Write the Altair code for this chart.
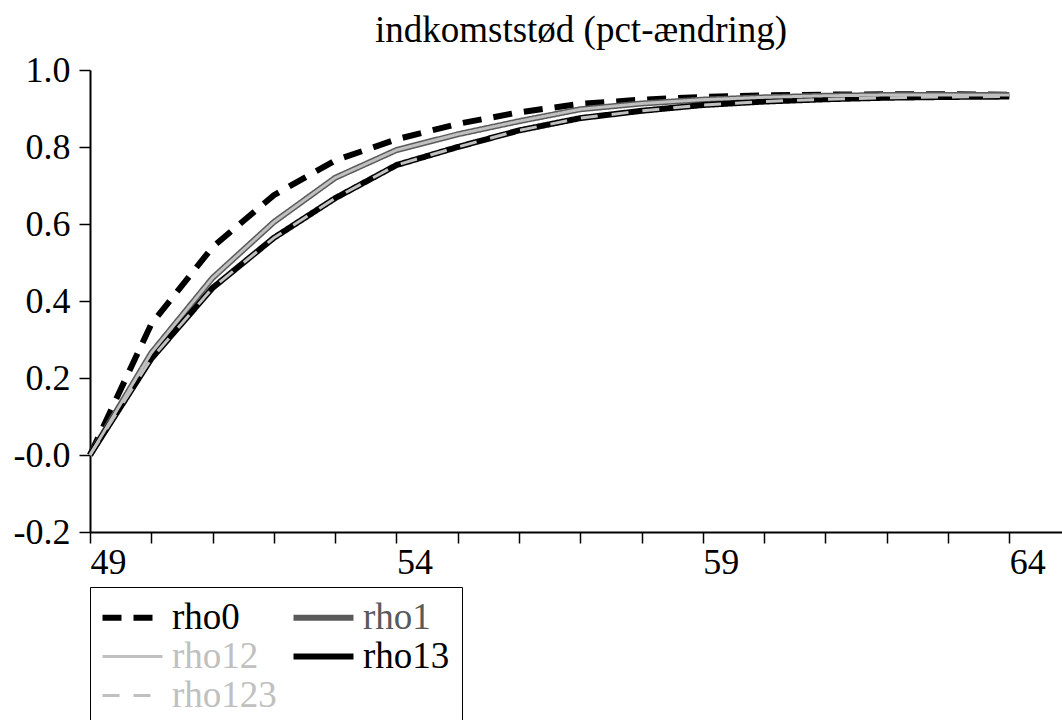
import altair as alt
import pandas as pd

years = list(range(49, 65))
rho0 = [0.0, 0.34, 0.54, 0.675, 0.765, 0.82, 0.86, 0.89, 0.912, 0.923, 0.93, 0.934, 0.936, 0.937, 0.937, 0.936]
rho1 = [0.0, 0.265, 0.46, 0.605, 0.72, 0.792, 0.833, 0.867, 0.898, 0.913, 0.923, 0.929, 0.933, 0.935, 0.935, 0.935]
rho12 = [0.0, 0.265, 0.46, 0.605, 0.72, 0.792, 0.833, 0.867, 0.898, 0.913, 0.923, 0.929, 0.933, 0.935, 0.935, 0.935]
rho13 = [0.0, 0.25, 0.434, 0.564, 0.667, 0.753, 0.80, 0.843, 0.875, 0.894, 0.909, 0.918, 0.924, 0.928, 0.930, 0.931]
rho123 = [0.0, 0.25, 0.434, 0.564, 0.667, 0.753, 0.80, 0.843, 0.875, 0.894, 0.909, 0.918, 0.924, 0.928, 0.930, 0.931]

series_names = ["rho0", "rho1", "rho12", "rho13", "rho123"]
series_values = [rho0, rho1, rho12, rho13, rho123]
colors = ["#000000", "#5a5a5a", "#c0c0c0", "#000000", "#c0c0c0"]
dashes = [[19, 12], [1, 0], [1, 0], [1, 0], [17, 14]]
thick = ["rho0", "rho1", "rho13"]
thin = ["rho12", "rho123"]
x_ticks = years
y_ticks = [-0.2, 0.0, 0.2, 0.4, 0.6, 0.8, 1.0]

rows = []
for name, vals in zip(series_names, series_values):
    for yr, v in zip(years, vals):
        rows.append({"year": yr, "value": v, "series": name})
df = pd.DataFrame(rows)

FONT = "Liberation Serif"

label_color_expr = (
    "datum.value == 'rho1' ? '#5a5a5a' : "
    "((datum.value == 'rho12' || datum.value == 'rho123') ? '#c0c0c0' : '#000000')"
)
symbol_width_expr = "(datum.value == 'rho12' || datum.value == 'rho123') ? 3 : 6"

legend = alt.Legend(
    title=None,
    orient="none",
    legendX=0,
    legendY=517,
    direction="horizontal",
    columns=2,
    columnPadding=4,
    rowPadding=1,
    padding=12,
    strokeColor="black",
    labelFont=FONT,
    labelFontSize=37,
    labelOffset=21,
    labelColor=alt.ExprRef(label_color_expr),
    symbolType="stroke",
    symbolSize=3600,
    symbolOffset=12,
    symbolStrokeWidth=alt.ExprRef(symbol_width_expr),
    labelLimit=300,
)

x_enc = alt.X(
    "year:Q",
    scale=alt.Scale(domain=[49, 64.86], nice=False, zero=False),
    axis=alt.Axis(
        title=None,
        values=x_ticks,
        labelExpr="(datum.value - 49) % 5 == 0 ? datum.value : ''",
        labelAlign="left",
        labelBaseline="top",
        labelPadding=2,
        labelFont=FONT,
        labelFontSize=36,
        labelColor="black",
        tickSize=11,
        tickWidth=1.5,
        tickColor="black",
        domainColor="black",
        domainWidth=2,
        grid=False,
        labelFlush=False,
        labelOverlap=False,
    ),
)
y_enc = alt.Y(
    "value:Q",
    scale=alt.Scale(domain=[-0.2, 1.0], nice=False, zero=False),
    axis=alt.Axis(
        title=None,
        values=y_ticks,
        labelExpr="datum.value < -0.01 ? '-' + format(-datum.value, '.1f') : (datum.value < 0.01 ? '-0.0' : format(datum.value, '.1f'))",
        labelPadding=9,
        labelFont=FONT,
        labelFontSize=36,
        labelColor="black",
        tickSize=11,
        tickWidth=1.5,
        tickColor="black",
        domainColor="black",
        domainWidth=2,
        grid=False,
        labelOverlap=False,
    ),
)
color_enc = alt.Color("series:N", scale=alt.Scale(domain=series_names, range=colors), legend=legend)
dash_enc = alt.StrokeDash("series:N", scale=alt.Scale(domain=series_names, range=dashes), legend=legend)

base = alt.Chart(df).encode(x=x_enc, y=y_enc, color=color_enc, strokeDash=dash_enc)

thick_layer = base.transform_filter(
    alt.FieldOneOfPredicate(field="series", oneOf=thick)
).mark_line(strokeWidth=6)
thin_layer = base.transform_filter(
    alt.FieldOneOfPredicate(field="series", oneOf=thin)
).mark_line(strokeWidth=3)

chart = (
    alt.layer(thick_layer, thin_layer)
    .properties(
        width=972,
        height=462,
        title=alt.TitleParams(
            "indkomststød (pct-ændring)",
            font=FONT,
            fontSize=37,
            fontWeight="normal",
            color="black",
            anchor="middle",
            frame="group",
            baseline="alphabetic",
            offset=9,
            dy=36,
            dx=5,
        ),
        autosize=alt.AutoSizeParams(type="none"),
        padding={"left": 90, "top": 70, "right": 0, "bottom": 188},
    )
    .configure(background="white", view=alt.ViewConfig(stroke=None))
)

chart.save("out.html", embed_options={"renderer": "svg", "actions": False})
